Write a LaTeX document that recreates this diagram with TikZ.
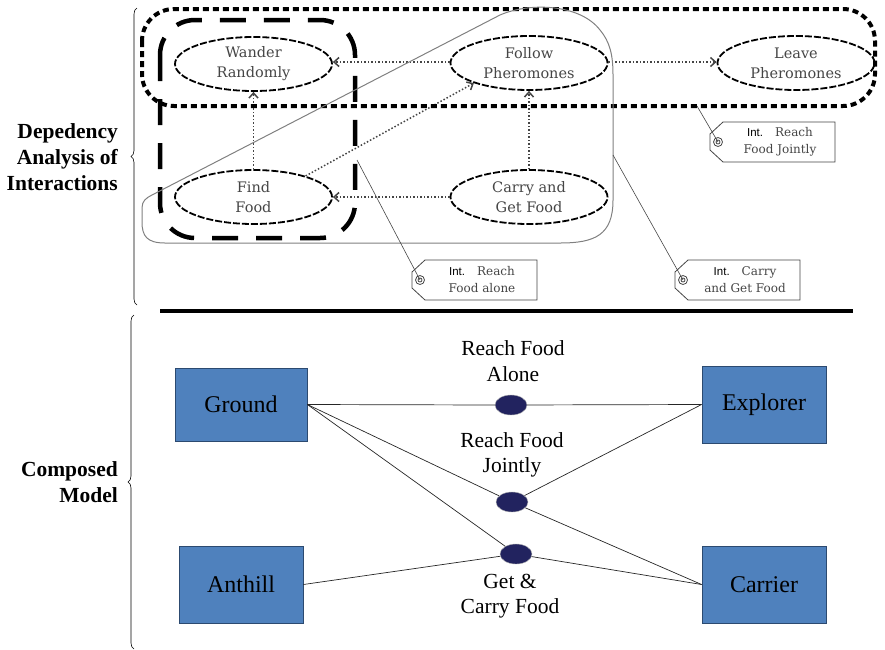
\documentclass[tikz,border=0pt]{standalone}
\usepackage{fontspec}
\setmainfont{Liberation Serif}
\newfontfamily\sketchfont{DejaVu Serif}
\newfontfamily\intfont{Liberation Sans}
\usetikzlibrary{shapes.geometric,positioning,arrows.meta,decorations.pathreplacing}
\definecolor{boxblue}{HTML}{4F81BD}
\definecolor{boxline}{HTML}{2C4A70}
\definecolor{dotnavy}{HTML}{22235F}
\definecolor{sketchgray}{HTML}{454545}

\begin{document}
\begin{tikzpicture}[x=1pt, y=-1pt,
    behaviour/.style={draw, ellipse, line width=1.8pt, dash pattern=on 7pt off 2pt, minimum width=157pt, minimum height=54pt, inner sep=0pt, align=center, text=sketchgray, font=\sketchfont\fontsize{14.5}{20}\selectfont},
    depends/.style={-{Straight Barb[length=5pt,width=9pt]}, line width=1.5pt, dotted, sketchgray},
    tagtext/.style={align=center, inner sep=0pt, text=sketchgray, font=\sketchfont\fontsize{12}{17}\selectfont},
    agent/.style={draw=boxline, fill=boxblue, line width=0.8pt, minimum width=124pt, minimum height=77pt, font=\fontsize{24}{28}\selectfont},
    interaction/.style={draw=gray!60, fill=dotnavy, ellipse, line width=0.4pt, minimum width=32pt, minimum height=20pt, inner sep=0pt},
    caption/.style={align=center, font=\fontsize{21.5}{25.5}\selectfont},
    side/.style={anchor=east, align=right, inner sep=0pt, font=\bfseries\fontsize{21.5}{26}\selectfont},
    link/.style={line width=0.7pt, black!85}]
    \useasboundingbox (0,0) rectangle (885,649);

    % dependency analysis
    \node[behaviour] (wander) at (253.5,64) {Wander\\Randomly};
    \node[behaviour] (follow) at (529,63) {Follow\\Pheromones};
    \node[behaviour] (leave) at (796,63) {Leave\\Pheromones};
    \node[behaviour] (find) at (253.5,197) {Find\\Food};
    \node[behaviour] (carry) at (529,197) {Carry and\\Get Food};

    \draw[depends] (follow.west |- 0,62) -- (wander.east |- 0,62);
    \draw[depends] (follow.east |- 0,62) -- (leave.west |- 0,62);
    \draw[depends] (find.north) -- (wander.south);
    \draw[depends] (find.22) -- (follow.200);
    \draw[depends] (carry.north) -- (follow.south);
    \draw[depends] (carry.west) -- (find.east);

    % interaction groups
    \draw[line width=4pt, dash pattern=on 6pt off 4pt, rounded corners=32pt] (142,9) rectangle (875,106);
    \draw[line width=4.5pt, dash pattern=on 26pt off 18pt, rounded corners=35pt] (160,20) rectangle (355,238);
    \draw[gray, line width=1pt] (152,195) -- (500,15) .. controls (530,2) and (580,4) .. (600,30)
        .. controls (610,42) and (613,55) .. (613,75) -- (613,200) .. controls (613,235) and (595,243) .. (560,243)
        -- (165,243) .. controls (147,243) and (142,236) .. (142,222) -- (142,208) .. controls (142,201) and (146,198) .. (152,195);
    \coordinate (jointlyedge) at (697,106);
    \coordinate (aloneedge) at (357,160);
    \coordinate (carryedge) at (613,155);

    \foreach \x/\y/\name/\first/\second in {412/260/alone/Reach/Food alone, 675/260/carry/Carry/and Get Food, 710/122/jointly/Reach/Food Jointly}{
        \draw[sketchgray, line width=0.8pt] (\x+13,\y) -- (\x+125,\y) -- (\x+125,\y+40) -- (\x+13,\y+40) -- (\x,\y+28) -- (\x,\y+12) -- cycle;
        \draw[sketchgray, line width=0.8pt] (\x+8,\y+20) circle[radius=4.5] circle[radius=2];
        \coordinate (ring\name) at (\x+8,\y+20);
        \node[tagtext] (tag\name) at (\x+70,\y+20) {{\intfont\color{black}\fontsize{11.5}{17}\selectfont Int.}\quad \first\\\second};
    }
    \draw[sketchgray, line width=0.6pt] (jointlyedge) -- (ringjointly);
    \draw[sketchgray, line width=0.6pt] (aloneedge) -- (ringalone);
    \draw[sketchgray, line width=0.6pt] (carryedge) -- (ringcarry);

    % side labels
    \draw[decorate, decoration={brace, amplitude=6pt}, line width=0.6pt] (137,305) -- (137,8);
    \draw[decorate, decoration={brace, amplitude=6pt}, line width=0.6pt] (134,649) -- (134,315);
    \node[side] (analysis) at (118,157) {Depedency\\Analysis of\\Interactions};
    \node[side] (composed) at (118,482) {Composed\\Model};
    \draw[line width=4pt] (160,311) -- (853,311);

    % composed model
    \node[agent, minimum width=132pt, minimum height=73pt] (ground) at (241,404.5) {Ground};
    \node[agent] (anthill) at (241,584.5) {Anthill};
    \node[agent] (explorer) at (764,404.5) {Explorer};
    \node[agent] (carrier) at (764,584.5) {Carrier};

    \node[interaction] (reachalone) at (511,405) {};
    \node[interaction] (reachjointly) at (512,502) {};
    \node[interaction] (getcarry) at (516,554) {};
    \node[caption] (alonelabel) at (513,361) {Reach Food\\Alone};
    \node[caption] (jointlylabel) at (512,455) {Reach Food\\Jointly};
    \node[caption] (getcarrylabel) at (510,596) {Get \&\\Carry Food};

    \draw[link] (ground.east) -- (reachalone.west);
    \draw[link] (ground.east) -- (reachjointly);
    \draw[link] (ground.east) -- (getcarry);
    \draw[link] (reachalone) -- (explorer.west);
    \draw[link] (reachjointly) -- (explorer.west);
    \draw[link] (reachjointly) -- (carrier.west);
    \draw[link] (getcarry) -- (carrier.west);
    \draw[link] (anthill.east) -- (getcarry);
\end{tikzpicture}
\end{document}
